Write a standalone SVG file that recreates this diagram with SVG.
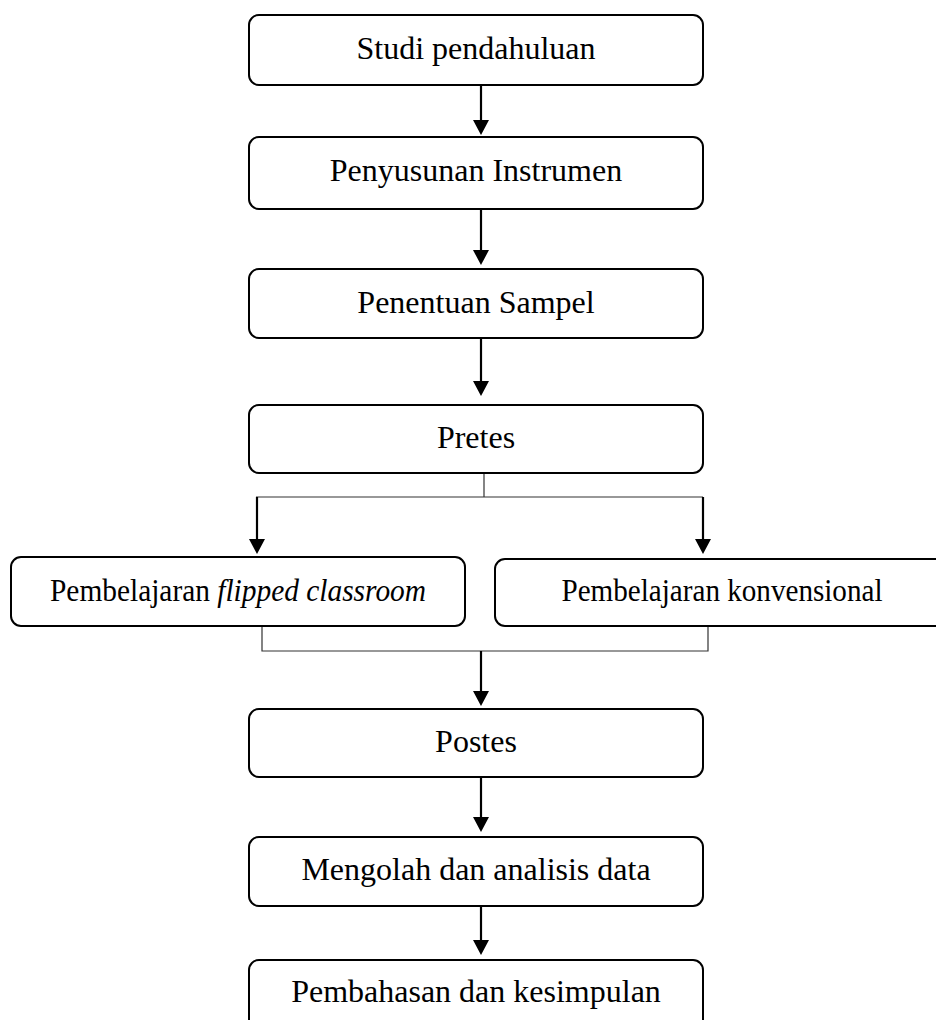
<svg xmlns="http://www.w3.org/2000/svg" width="936" height="1020" viewBox="0 0 936 1020">
<style>
.box{fill:#fff;stroke:#000;stroke-width:2}
.t{font-family:"Liberation Serif","Times New Roman",serif;font-size:32px;fill:#000;text-anchor:middle}
.ts{font-family:"Liberation Serif","Times New Roman",serif;font-size:31px;fill:#000;text-anchor:middle}
.arr{stroke:#000;stroke-width:2.2;fill:none}
.thin{stroke:#333;stroke-width:1.2;fill:none}
</style>
<defs>
<marker id="ah" viewBox="0 0 15 16" refX="8" refY="8" markerWidth="15" markerHeight="16" markerUnits="userSpaceOnUse" orient="auto">
<path d="M0,0 L15,8 L0,16 z" fill="#000"/>
</marker>
</defs>
<rect width="936" height="1020" fill="#fff"/>
<g id="connectors">
<line class="arr" x1="481" y1="85" x2="481" y2="128" marker-end="url(#ah)"/>
<line class="arr" x1="481" y1="209" x2="481" y2="258" marker-end="url(#ah)"/>
<line class="arr" x1="481" y1="338" x2="481" y2="389" marker-end="url(#ah)"/>
<polyline class="thin" points="484,473 484,497"/>
<line class="thin" x1="256" y1="497" x2="703" y2="497"/>
<line class="arr" x1="257" y1="497" x2="257" y2="547" marker-end="url(#ah)"/>
<line class="arr" x1="703" y1="497" x2="703" y2="547" marker-end="url(#ah)"/>
<polyline class="thin" points="262,626 262,651 708,651 708,626"/>
<line class="arr" x1="481" y1="651" x2="481" y2="699" marker-end="url(#ah)"/>
<line class="arr" x1="481" y1="777" x2="481" y2="825" marker-end="url(#ah)"/>
<line class="arr" x1="481" y1="901" x2="481" y2="948" marker-end="url(#ah)"/>
</g>
<g id="n1"><rect class="box" x="249" y="15" width="454" height="70" rx="10"/><text class="t" x="476" y="59">Studi pendahuluan</text></g>
<g id="n2"><rect class="box" x="249" y="137" width="454" height="72" rx="10"/><text class="t" x="476" y="181">Penyusunan Instrumen</text></g>
<g id="n3"><rect class="box" x="249" y="269" width="454" height="69" rx="10"/><text class="t" x="476" y="313">Penentuan Sampel</text></g>
<g id="n4"><rect class="box" x="249" y="405" width="454" height="68" rx="10"/><text class="t" x="476" y="448">Pretes</text></g>
<g id="n5"><rect class="box" x="11" y="557" width="454" height="69" rx="10"/><text class="ts" x="238" y="601" textLength="376" lengthAdjust="spacingAndGlyphs">Pembelajaran <tspan font-style="italic">flipped classroom</tspan></text></g>
<g id="n6"><rect class="box" x="495" y="559" width="454" height="67" rx="10"/><text class="ts" x="722" y="601" textLength="321" lengthAdjust="spacingAndGlyphs">Pembelajaran konvensional</text></g>
<g id="n7"><rect class="box" x="249" y="709" width="454" height="68" rx="10"/><text class="t" x="476" y="752">Postes</text></g>
<g id="n8"><rect class="box" x="249" y="837" width="454" height="69" rx="10"/><text class="t" x="476" y="880">Mengolah dan analisis data</text></g>
<g id="n9"><rect class="box" x="249" y="960" width="454" height="80" rx="10"/><text class="t" x="476" y="1002">Pembahasan dan kesimpulan</text></g>
</svg>
